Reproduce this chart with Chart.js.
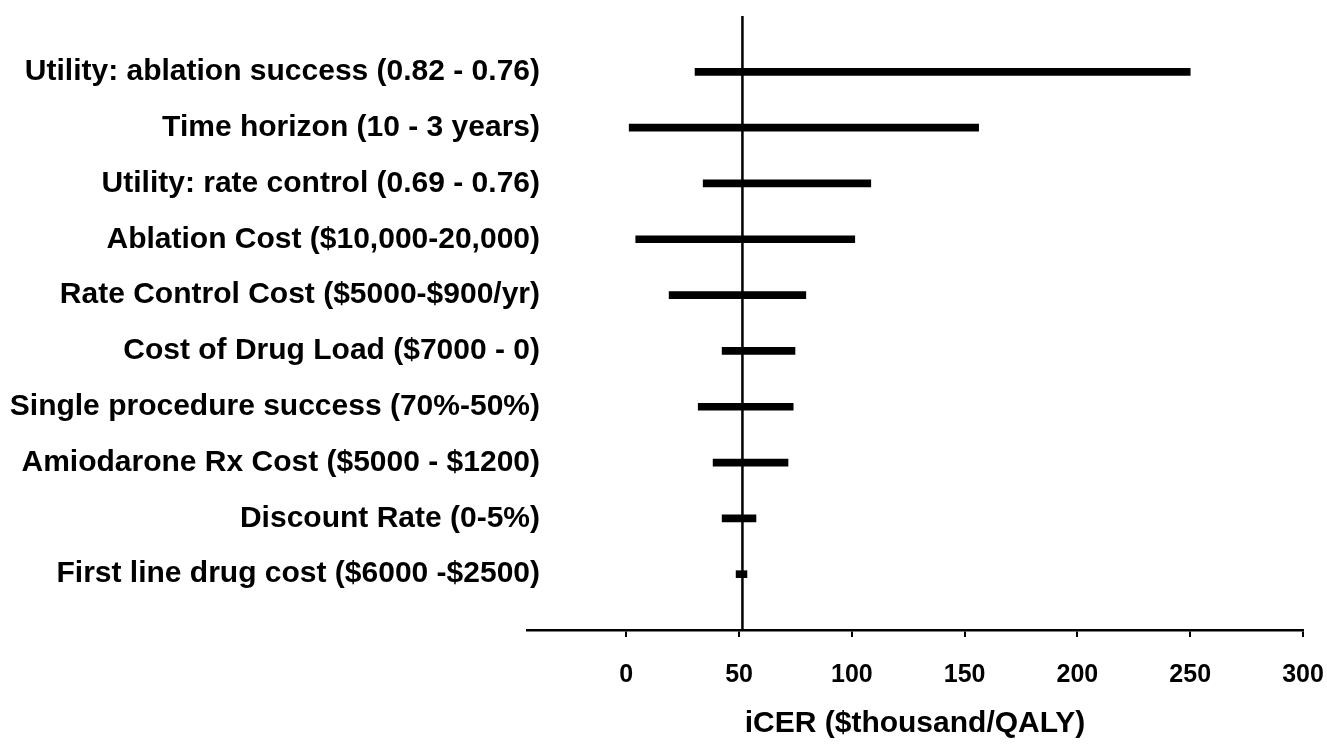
<!DOCTYPE html>
<html>
<head>
<meta charset="utf-8">
<script src="https://cdn.jsdelivr.net/npm/chart.js@4.4.1/dist/chart.umd.min.js"></script>
<style>
  html, body { margin: 0; padding: 0; background: #fff; }
  #wrap { width: 1327px; height: 745px; }
</style>
</head>
<body>
<div id="wrap"><canvas id="tornado"></canvas></div>
<script>
// parameters, top to bottom
const categories = [
    'Utility: ablation success (0.82 - 0.76)',
    'Time horizon (10 - 3 years)',
    'Utility: rate control (0.69 - 0.76)',
    'Ablation Cost ($10,000-20,000)',
    'Rate Control Cost ($5000-$900/yr)',
    'Cost of Drug Load ($7000 - 0)',
    'Single procedure success (70%-50%)',
    'Amiodarone Rx Cost ($5000 - $1200)',
    'Discount Rate (0-5%)',
    'First line drug cost ($6000 -$2500)'
];
// iCER range ($thousand/QALY) for each parameter
const lowValues = [30.5, 1.3, 34.1, 4.2, 19, 42.5, 31.9, 38.5, 42.5, 48.7];
const highValues = [250, 156.2, 108.4, 101.3, 79.6, 74.8, 74, 71.7, 57.5, 53.5];
const baseCase = 51.5;
const xTickValues = [0, 50, 100, 150, 200, 250, 300];

const fontFam = '"Liberation Sans", Arial, sans-serif';

const barData = categories.map((c, i) => ({ x: [lowValues[i], highValues[i]], y: i + 1 }));
const baseLine = [{ x: baseCase, y: 0 }, { x: baseCase, y: categories.length + 1 }];

const ctx = document.getElementById('tornado').getContext('2d');
new Chart(ctx, {
    type: 'bar',
    data: {
        datasets: [
            {
                data: barData,
                backgroundColor: '#000',
                barThickness: 7
            },
            {
                type: 'line',
                data: baseLine,
                borderColor: '#000',
                borderWidth: 2.5,
                pointRadius: 0,
                fill: false
            }
        ]
    },
    options: {
        indexAxis: 'y',
        responsive: true,
        maintainAspectRatio: false,
        animation: false,
        layout: { padding: { top: 16, right: 24, left: 0, bottom: 0 } },
        plugins: {
            legend: { display: false },
            tooltip: { enabled: false }
        },
        scales: {
            x: {
                type: 'linear',
                min: -44,
                max: 300,
                afterBuildTicks: (axis) => {
                    axis.ticks = xTickValues.map(v => ({ value: v }));
                },
                afterFit: (axis) => {
                    axis.height = 115;
                    axis.paddingLeft = 0;
                    axis.paddingRight = 0;
                },
                grid: {
                    drawOnChartArea: false,
                    drawTicks: true,
                    tickLength: 7,
                    color: '#000',
                    lineWidth: 2
                },
                border: { display: true, color: '#000', width: 2.5 },
                ticks: {
                    color: '#000',
                    padding: 23,
                    font: { family: fontFam, size: 25, weight: 'bold' }
                },
                title: {
                    display: true,
                    text: 'iCER ($thousand/QALY)',
                    color: '#000',
                    padding: { top: 0, bottom: 3 },
                    font: { family: fontFam, size: 30, weight: 'bold' }
                }
            },
            y: {
                type: 'linear',
                reverse: true,
                offset: false,
                min: 0,
                max: categories.length + 1,
                afterBuildTicks: (axis) => {
                    axis.ticks = categories.map((c, i) => ({ value: i + 1 }));
                },
                afterFit: (axis) => {
                    axis.width = 527;
                    axis.paddingTop = 0;
                    axis.paddingBottom = 0;
                    // labels run a little past the plot's left edge, as in the original
                    axis._computeLabelArea = () => undefined;
                },
                grid: { display: false, offset: false },
                border: { display: false },
                ticks: {
                    autoSkip: false,
                    color: '#000',
                    padding: -21,
                    font: { family: fontFam, size: 30, weight: 'bold' },
                    callback: (v) => categories[v - 1] || ''
                }
            }
        }
    }
});
</script>
</body>
</html>
